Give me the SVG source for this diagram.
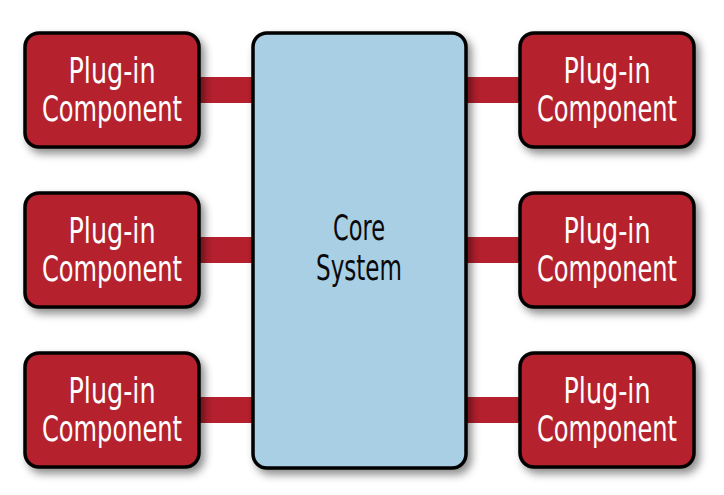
<svg xmlns="http://www.w3.org/2000/svg" width="724" height="495" viewBox="0 0 724 495">
<defs>
<filter id="sh" x="-20%" y="-20%" width="150%" height="150%">
<feDropShadow dx="4" dy="5" stdDeviation="4" flood-color="#000" flood-opacity="0.45"/>
</filter>
<style>
.plug{fill:#b5202e;stroke:#000;stroke-width:3.5;filter:url(#sh)}
.core{fill:#a9cfe5;stroke:#000;stroke-width:3.5;filter:url(#sh)}
.conn{fill:#b5202e}
.lbl{font-family:"DejaVu Sans","Liberation Sans",sans-serif;font-stretch:condensed;font-size:36px;text-anchor:middle}
.w{fill:#fff}
.k{fill:#0a0a0a}
</style>
</defs>
<rect width="724" height="495" fill="#fff"/>
<g id="connectors">
<rect class="conn" x="195" y="77" width="62" height="26"/>
<rect class="conn" x="195" y="237" width="62" height="26"/>
<rect class="conn" x="195" y="397" width="62" height="26"/>
<rect class="conn" x="462" y="77" width="62" height="26"/>
<rect class="conn" x="462" y="237" width="62" height="26"/>
<rect class="conn" x="462" y="397" width="62" height="26"/>
</g>
<g id="core">
<rect class="core" x="253" y="33" width="213" height="435" rx="14"/>
<text class="lbl k" x="359" y="240" textLength="52" lengthAdjust="spacingAndGlyphs">Core</text>
<text class="lbl k" x="359" y="280" textLength="86" lengthAdjust="spacingAndGlyphs">System</text>
</g>
<g id="plugin-l1">
<rect class="plug" x="25" y="33" width="174" height="114" rx="14"/>
<text class="lbl w" x="112" y="83" textLength="87" lengthAdjust="spacingAndGlyphs">Plug-in</text>
<text class="lbl w" x="112" y="121" textLength="140" lengthAdjust="spacingAndGlyphs">Component</text>
</g>
<g id="plugin-l2">
<rect class="plug" x="25" y="193" width="174" height="114" rx="14"/>
<text class="lbl w" x="112" y="243" textLength="87" lengthAdjust="spacingAndGlyphs">Plug-in</text>
<text class="lbl w" x="112" y="281" textLength="140" lengthAdjust="spacingAndGlyphs">Component</text>
</g>
<g id="plugin-l3">
<rect class="plug" x="25" y="353" width="174" height="114" rx="14"/>
<text class="lbl w" x="112" y="403" textLength="87" lengthAdjust="spacingAndGlyphs">Plug-in</text>
<text class="lbl w" x="112" y="441" textLength="140" lengthAdjust="spacingAndGlyphs">Component</text>
</g>
<g id="plugin-r1">
<rect class="plug" x="520" y="33" width="174" height="114" rx="14"/>
<text class="lbl w" x="607" y="83" textLength="87" lengthAdjust="spacingAndGlyphs">Plug-in</text>
<text class="lbl w" x="607" y="121" textLength="140" lengthAdjust="spacingAndGlyphs">Component</text>
</g>
<g id="plugin-r2">
<rect class="plug" x="520" y="193" width="174" height="114" rx="14"/>
<text class="lbl w" x="607" y="243" textLength="87" lengthAdjust="spacingAndGlyphs">Plug-in</text>
<text class="lbl w" x="607" y="281" textLength="140" lengthAdjust="spacingAndGlyphs">Component</text>
</g>
<g id="plugin-r3">
<rect class="plug" x="520" y="353" width="174" height="114" rx="14"/>
<text class="lbl w" x="607" y="403" textLength="87" lengthAdjust="spacingAndGlyphs">Plug-in</text>
<text class="lbl w" x="607" y="441" textLength="140" lengthAdjust="spacingAndGlyphs">Component</text>
</g>
</svg>
